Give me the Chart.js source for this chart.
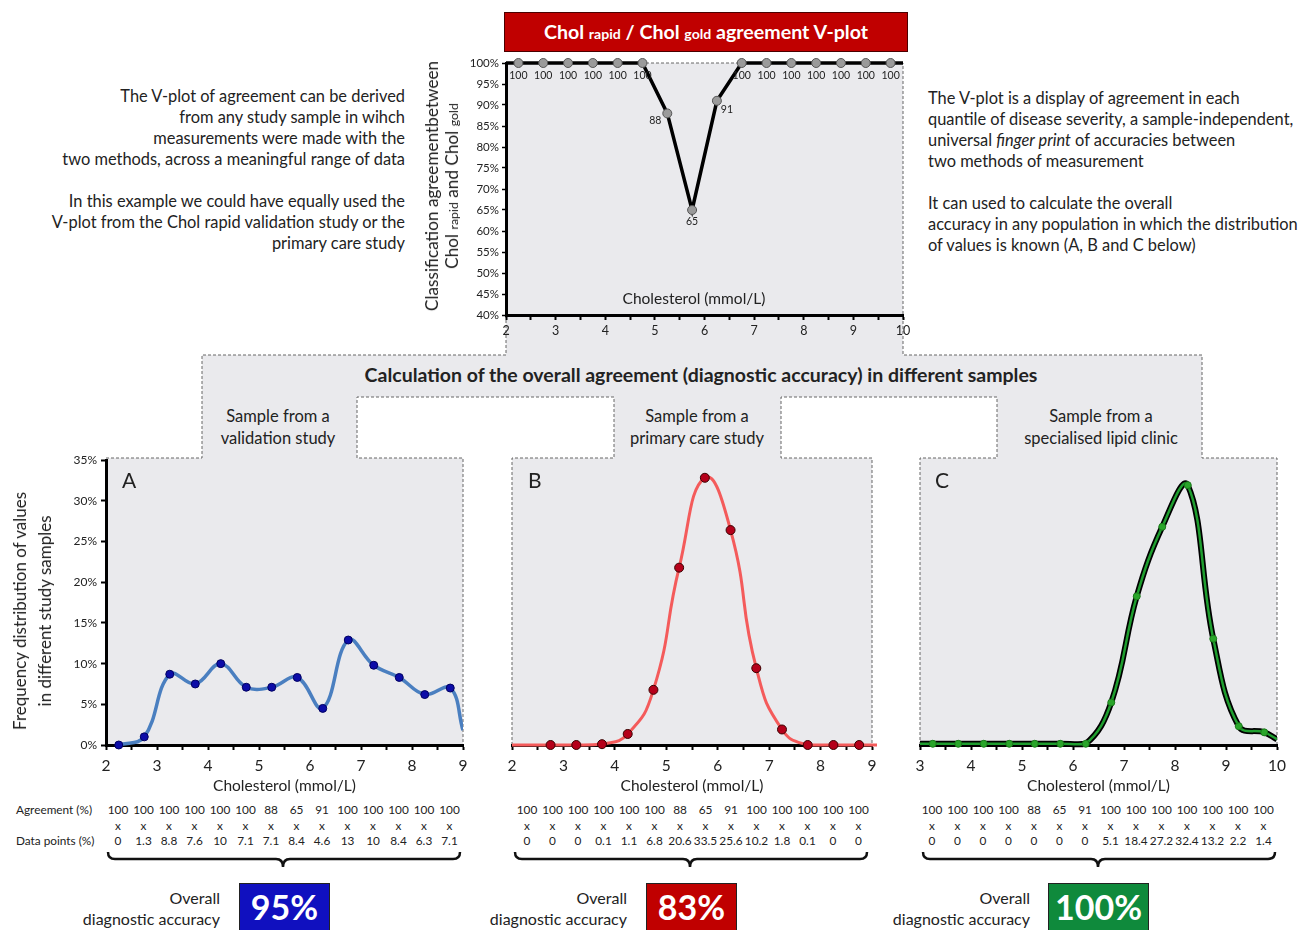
<!DOCTYPE html>
<html>
<head>
<meta charset="utf-8">
<script src="https://cdn.jsdelivr.net/npm/chart.js@4.4.1/dist/chart.umd.min.js"></script>
<style>
  body { margin: 0; background: #fff; font-family: Lato, "Open Sans", sans-serif; color: #222; }
  #page { position: relative; width: 1299px; height: 930px; overflow: hidden; }
  .abs { position: absolute; white-space: nowrap; }
  canvas { position: absolute; }
  .para { font-size: 16.4px; line-height: 21px; }
  .sub { font-size: 0.72em; }
  .cell { position: absolute; width: 34px; text-align: center; font-size: 11.8px; line-height: 14px; }
  .rowlbl { position: absolute; font-size: 11.8px; line-height: 14px; }
  .acc { position: absolute; font-size: 16px; line-height: 21px; text-align: right; width: 200px; }
  .accbox { position: absolute; top: 883px; height: 60px; color: #fff; font-weight: bold; font-size: 34px;
            line-height: 46px; text-align: center; border: 1px solid #222; box-sizing: border-box; }
  .sample { position: absolute; width: 240px; text-align: center; font-size: 16.5px; line-height: 22px; }
  .rot { position: absolute; transform: translate(-50%, -50%) rotate(-90deg); text-align: center; white-space: nowrap; }
</style>
</head>
<body>
<div id="page">

<svg class="abs" style="left:0;top:0" width="1299" height="930">
  <polygon points="506,63 903,63 903,355 1202,355 1202,458 1277,458 1277,745 920,745 920,458 997,458 997,397 781,397 781,458 872,458 872,745 512,745 512,458 614,458 614,397 357,397 357,458 463,458 463,745 106,745 106,458 202,458 202,355 506,355"
           fill="#eaeaed" stroke="#666" stroke-width="1" stroke-dasharray="3,2"/>
  <g fill="none" stroke="#111" stroke-width="2.5">
    <path d="M108,852 Q108,859 115,859 L276,859 Q283,859 283,867 Q283,859 290,859 L453,859 Q460,859 460,852"/>
    <path d="M515,852 Q515,859 522,859 L683,859 Q690,859 690,867 Q690,859 697,859 L860,859 Q867,859 867,852"/>
    <path d="M923,852 Q923,859 930,859 L1091,859 Q1098,859 1098,867 Q1098,859 1105,859 L1268,859 Q1275,859 1275,852"/>
  </g>
</svg>

<canvas id="vplot" width="464" height="292" style="left:456px;top:53px"></canvas>
<canvas id="chartA" width="430" height="346" style="left:46px;top:449px"></canvas>
<canvas id="chartB" width="390" height="346" style="left:500px;top:449px"></canvas>
<canvas id="chartC" width="394" height="346" style="left:905px;top:449px"></canvas>

<div class="abs" style="left:504px;top:12px;width:404px;height:40px;background:#c00000;border:1.5px solid #4a0000;box-sizing:border-box;color:#fff;font-weight:bold;font-size:19.6px;line-height:37px;text-align:center">
  Chol <span class="sub">rapid</span> / Chol <span class="sub">gold</span> agreement V-plot
</div>

<div class="abs para" style="left:20px;top:85px;width:385px;text-align:right">
  The V-plot of agreement can be derived<br>
  from any study sample in wihch<br>
  measurements were made with the<br>
  two methods, across a meaningful range of data<br><br>
  In this example we could have equally used the<br>
  V-plot from the Chol rapid validation study or the<br>
  primary care study
</div>

<div class="abs para" style="left:928px;top:87px">
  The V-plot is a display of agreement in each<br>
  quantile of disease severity, a sample-independent,<br>
  universal <i>finger print</i> of accuracies between<br>
  two methods of measurement<br><br>
  It can used to calculate the overall<br>
  accuracy in any population in which the distribution<br>
  of values is known (A, B and C below)
</div>

<div class="rot" style="left:443px;top:186px;font-size:17.2px;line-height:20px">
  Classification agreementbetween<br>Chol <span class="sub">rapid</span> and Chol <span class="sub">gold</span>
</div>
<div class="abs" style="left:694px;top:298px;transform:translate(-50%,-50%);font-size:15.5px">Cholesterol (mmol/L)</div>

<div class="abs" style="left:701px;top:374px;transform:translate(-50%,-50%);font-size:19.5px;font-weight:bold">Calculation of the overall agreement (diagnostic accuracy) in different samples</div>

<div class="sample" style="left:158px;top:405px">Sample from a<br>validation study</div>
<div class="sample" style="left:577px;top:405px">Sample from a<br>primary care study</div>
<div class="sample" style="left:981px;top:405px">Sample from a<br>specialised lipid clinic</div>

<div class="rot" style="left:32px;top:611px;font-size:17px;line-height:25px">
  Frequency distribution of values<br>in different study samples
</div>

<div class="abs" style="left:122px;top:467px;font-size:21px">A</div>
<div class="abs" style="left:528px;top:467px;font-size:21px">B</div>
<div class="abs" style="left:935px;top:467px;font-size:21px">C</div>

<div id="tables"></div>

<div class="acc" style="left:20px;top:887px">Overall<br>diagnostic accuracy</div>
<div class="accbox" style="left:239px;width:91px;background:#1010bf">95%</div>
<div class="acc" style="left:427px;top:887px">Overall<br>diagnostic accuracy</div>
<div class="accbox" style="left:646px;width:91px;background:#c00000">83%</div>
<div class="acc" style="left:830px;top:887px">Overall<br>diagnostic accuracy</div>
<div class="accbox" style="left:1048px;width:101px;background:#0f8a3c">100%</div>

</div>

<script>
// V-plot: agreement per 0.5 mmol/L bin
const vplotX = [2.25, 2.75, 3.25, 3.75, 4.25, 4.75, 5.25, 5.75, 6.25, 6.75, 7.25, 7.75, 8.25, 8.75, 9.25, 9.75];
const vplotAgreement = [100, 100, 100, 100, 100, 100, 88, 65, 91, 100, 100, 100, 100, 100, 100, 100];
const vplotEdgeX = [2, 10];
const vplotEdgeY = [100, 100];

// sample A (validation study)
const aX = [2.25, 2.75, 3.25, 3.75, 4.25, 4.75, 5.25, 5.75, 6.25, 6.75, 7.25, 7.75, 8.25, 8.75];
const aFreq = [0, 1.0, 8.7, 7.5, 10.0, 7.1, 7.1, 8.3, 4.5, 12.9, 9.8, 8.3, 6.2, 7.0];
const aEndX = 9, aEndY = 1.8;

// sample B (primary care)
const bX = [2.75, 3.25, 3.75, 4.25, 4.75, 5.25, 5.75, 6.25, 6.75, 7.25, 7.75, 8.25, 8.75];
const bFreq = [0, 0, 0.1, 1.35, 6.75, 21.7, 32.7, 26.3, 9.4, 1.9, 0, 0, 0];
const bEdgeX = [2, 9.1];
const bEdgeY = [0, 0];

// sample C (lipid clinic)
const cX = [3.25, 3.75, 4.25, 4.75, 5.25, 5.75, 6.25, 6.75, 7.25, 7.75, 8.25, 8.75, 9.25, 9.75];
const cFreq = [0.15, 0.15, 0.15, 0.15, 0.15, 0.15, 0.15, 5.2, 18.2, 26.7, 31.8, 13.0, 2.3, 1.55];
const cEdgeX = [3, 10];
const cEdgeY = [0.15, 0.7];

// table rows under each chart
const aAgreeRow = ['100', '100', '100', '100', '100', '100', '88', '65', '91', '100', '100', '100', '100', '100'];
const aDataRow = ['0', '1.3', '8.8', '7.6', '10', '7.1', '7.1', '8.4', '4.6', '13', '10', '8.4', '6.3', '7.1'];
const bAgreeRow = ['100', '100', '100', '100', '100', '100', '88', '65', '91', '100', '100', '100', '100', '100'];
const bDataRow = ['0', '0', '0', '0.1', '1.1', '6.8', '20.6', '33.5', '25.6', '10.2', '1.8', '0.1', '0', '0'];
const cAgreeRow = ['100', '100', '100', '100', '88', '65', '91', '100', '100', '100', '100', '100', '100', '100'];
const cDataRow = ['0', '0', '0', '0', '0', '0', '0', '5.1', '18.4', '27.2', '32.4', '13.2', '2.2', '1.4'];

const pts = (xs, ys) => xs.map((x, i) => ({ x: x, y: ys[i] }));

function xAxis(min, max, fontSize, height, withTitle) {
  return {
    type: 'linear', min: min, max: max,
    afterFit: s => { s.height = height; },
    border: { display: true, color: '#000', width: 3 },
    grid: { display: true, drawOnChartArea: false, drawTicks: true, tickLength: 5, tickColor: '#000', tickWidth: 2 },
    ticks: {
      stepSize: 0.5, autoSkip: false, maxRotation: 0, padding: withTitle ? 7 : 3,
      color: '#222', font: { family: 'Lato', size: fontSize },
      callback: v => Number.isInteger(v) ? v : ''
    },
    title: {
      display: withTitle, text: 'Cholesterol (mmol/L)', color: '#222',
      font: { family: 'Lato', size: 15.5 }, padding: { top: -6, bottom: 0 }
    }
  };
}

function freqY(showLabels) {
  return {
    min: 0, max: 35, display: showLabels,
    afterFit: s => { s.width = showLabels ? 60 : 0; },
    border: { display: true, color: '#000', width: 3 },
    grid: { display: true, drawOnChartArea: false, drawTicks: true, tickLength: 5, tickColor: '#000', tickWidth: 2 },
    ticks: { stepSize: 5, padding: 4, color: '#222', font: { family: 'Lato', size: 12 }, callback: v => v + '%' }
  };
}

const common = {
  responsive: false, animation: false,
  plugins: { legend: { display: false }, tooltip: { enabled: false } }
};

const vLabels = {
  id: 'vLabels',
  afterDatasetsDraw(chart) {
    const meta = chart.getDatasetMeta(0);
    const ctx = chart.ctx;
    ctx.save();
    ctx.font = '10.5px Lato';
    ctx.fillStyle = '#222';
    ctx.textAlign = 'center';
    ctx.textBaseline = 'middle';
    meta.data.forEach((p, i) => {
      const v = vplotAgreement[i];
      let dx = 0, dy = 13;
      if (v === 88) { dx = -12; dy = 7; }
      if (v === 91) { dx = 10; dy = 9; }
      if (v === 65) { dy = 12; }
      ctx.fillText(v, p.x + dx, p.y + dy);
    });
    ctx.restore();
  }
};

// V-plot
const vLine = pts(vplotX, vplotAgreement);
vLine.unshift({ x: vplotEdgeX[0], y: vplotEdgeY[0] });
vLine.push({ x: vplotEdgeX[1], y: vplotEdgeY[1] });
new Chart(document.getElementById('vplot'), {
  type: 'line',
  data: {
    datasets: [
      { data: pts(vplotX, vplotAgreement), showLine: false, pointRadius: 4.5, pointBackgroundColor: '#9a9a9a',
        pointBorderColor: '#555', pointBorderWidth: 1, clip: false, order: 0 },
      { data: vLine, borderColor: '#000', borderWidth: 3.5, pointRadius: 0, tension: 0, clip: false, order: 1 }
    ]
  },
  options: Object.assign({}, common, {
    layout: { padding: { top: 10, right: 17, left: 0, bottom: 0 } },
    scales: {
      x: xAxis(2, 10, 12.5, 30, false),
      y: {
        min: 40, max: 100,
        afterFit: s => { s.width = 50; },
        border: { display: true, color: '#000', width: 3 },
        grid: { display: true, drawOnChartArea: false, drawTicks: true, tickLength: 4, tickColor: '#000', tickWidth: 1.5 },
        ticks: { stepSize: 5, padding: 3, color: '#222', font: { family: 'Lato', size: 11.5 }, callback: v => v + '%' }
      }
    }
  }),
  plugins: [vLabels]
});

// chart A
const aLine = pts(aX, aFreq);
aLine.push({ x: aEndX, y: aEndY });
new Chart(document.getElementById('chartA'), {
  type: 'line',
  data: {
    datasets: [
      { data: pts(aX, aFreq), showLine: false, pointRadius: 4, pointBackgroundColor: '#0c0ca8',
        pointBorderColor: '#000060', pointBorderWidth: 1, clip: false, order: 0 },
      { data: aLine, borderColor: '#4a7fc0', borderWidth: 3.5, pointRadius: 0, tension: 0.4,
        clip: { left: 0, right: 0, top: 10, bottom: 6 }, order: 1 }
    ]
  },
  options: Object.assign({}, common, {
    layout: { padding: { top: 10, right: 13, left: 0, bottom: 0 } },
    scales: { x: xAxis(2, 9, 15.5, 50, true), y: freqY(true) }
  })
});

// chart B
const bLine = pts(bX, bFreq);
bLine.unshift({ x: bEdgeX[0], y: bEdgeY[0] });
bLine.push({ x: bEdgeX[1], y: bEdgeY[1] });
new Chart(document.getElementById('chartB'), {
  type: 'line',
  data: {
    datasets: [
      { data: pts(bX, bFreq), showLine: false, pointRadius: 4.5, pointBackgroundColor: '#b5001a',
        pointBorderColor: '#3a0000', pointBorderWidth: 1, clip: false, order: 0 },
      { data: bLine, borderColor: '#f45b5b', borderWidth: 3, pointRadius: 0, tension: 0.5,
        clip: { left: 0, right: 5, top: 10, bottom: 6 }, order: 1 }
    ]
  },
  options: Object.assign({}, common, {
    layout: { padding: { top: 10, right: 18, left: 12, bottom: 0 } },
    scales: { x: xAxis(2, 9, 15.5, 50, true), y: freqY(false) }
  })
});

// chart C
const cLine = pts(cX, cFreq);
cLine.unshift({ x: cEdgeX[0], y: cEdgeY[0] });
cLine.push({ x: cEdgeX[1], y: cEdgeY[1] });
new Chart(document.getElementById('chartC'), {
  type: 'line',
  data: {
    datasets: [
      { data: pts(cX, cFreq), showLine: false, pointRadius: 3.5, pointBackgroundColor: '#2aa52a',
        pointBorderColor: '#1a7a1a', pointBorderWidth: 1, clip: false, order: 0 },
      { data: cLine, borderColor: '#1f9e2f', borderWidth: 2.5, pointRadius: 0, tension: 0.4,
        clip: { left: 0, right: 0, top: 10, bottom: 6 }, order: 1 },
      { data: cLine, borderColor: '#000', borderWidth: 6, pointRadius: 0, tension: 0.4,
        clip: { left: 0, right: 0, top: 10, bottom: 6 }, order: 2 }
    ]
  },
  options: Object.assign({}, common, {
    layout: { padding: { top: 10, right: 22, left: 15, bottom: 0 } },
    scales: { x: xAxis(3, 10, 15.5, 50, true), y: freqY(false) }
  })
});

// number tables
function buildTable(x0, agree, data, withLabels) {
  const host = document.getElementById('tables');
  const rows = [[810, agree], [826, agree.map(() => 'x')], [841, data]];
  rows.forEach(([y, vals]) => {
    vals.forEach((v, i) => {
      const d = document.createElement('div');
      d.className = 'cell';
      d.style.left = (x0 + i * 25.5 - 17) + 'px';
      d.style.top = (y - 7) + 'px';
      d.textContent = v;
      host.appendChild(d);
    });
  });
  if (withLabels) {
    [[810, 'Agreement (%)'], [841, 'Data points (%)']].forEach(([y, t]) => {
      const d = document.createElement('div');
      d.className = 'rowlbl';
      d.style.left = '16px';
      d.style.top = (y - 7) + 'px';
      d.textContent = t;
      host.appendChild(d);
    });
  }
}
buildTable(118, aAgreeRow, aDataRow, true);
buildTable(527, bAgreeRow, bDataRow, false);
buildTable(932, cAgreeRow, cDataRow, false);
</script>
</body>
</html>
